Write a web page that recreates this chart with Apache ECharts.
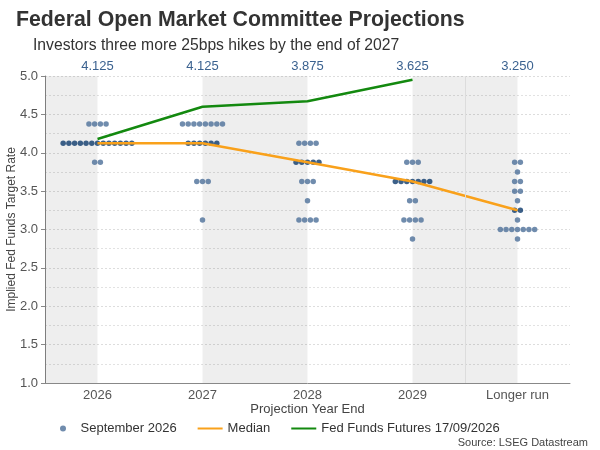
<!DOCTYPE html>
<html><head><meta charset="utf-8">
<script src="https://cdn.jsdelivr.net/npm/echarts@6/dist/echarts.min.js"></script>
<style>html,body{margin:0;padding:0;background:#fff}#c{width:600px;height:450px}</style>
</head><body><div id="c"></div>
<script>
const categories = ['2026', '2027', '2028', '2029', 'Longer run'];
const dots2026 = [4.375,4.375,4.375,4.375, 4.125,4.125,4.125,4.125,4.125,4.125,4.125,4.125,4.125,4.125,4.125,4.125,4.125, 3.875,3.875];
const dots2027 = [4.375,4.375,4.375,4.375,4.375,4.375,4.375,4.375, 4.125,4.125,4.125,4.125,4.125,4.125, 3.625,3.625,3.625, 3.125];
const dots2028 = [4.125,4.125,4.125,4.125, 3.875,3.875,3.875,3.875,3.875, 3.625,3.625,3.625, 3.375, 3.125,3.125,3.125,3.125];
const dots2029 = [3.875,3.875,3.875, 3.625,3.625,3.625,3.625,3.625,3.625,3.625, 3.375,3.375, 3.125,3.125,3.125,3.125, 2.875];
const dotsLonger = [3.875,3.875, 3.75, 3.625,3.625, 3.5,3.5, 3.375, 3.25,3.25, 3.125, 3.0,3.0,3.0,3.0,3.0,3.0,3.0, 2.875];
const medians = [4.125, 4.125, 3.875, 3.625, 3.25];
const medianLabels = ['4.125', '4.125', '3.875', '3.625', '3.250'];
const futures = [4.18, 4.60, 4.67, 4.95];
const yTicks = [1.0, 1.5, 2.0, 2.5, 3.0, 3.5, 4.0, 4.5, 5.0];

const allDots = [dots2026, dots2027, dots2028, dots2029, dotsLonger];
const STEP = 0.0545;
const scatterData = [];
allDots.forEach((arr, ci) => {
  const groups = {};
  arr.forEach(v => { groups[v] = (groups[v] || 0) + 1; });
  Object.keys(groups).forEach(k => {
    const v = parseFloat(k), n = groups[k];
    for (let i = 0; i < n; i++) {
      const off = (i - (n - 1) / 2) * STEP;
      scatterData.push({
        value: [ci + off, v],
        itemStyle: { color: v === medians[ci] ? '#0c3a6c' : '#4c6f98' }
      });
    }
  });
});

const chart = echarts.init(document.getElementById('c'));
const font = 'Liberation Sans, Arial, sans-serif';
chart.setOption({
  animation: false,
  textStyle: { fontFamily: font },
  title: [
    { text: 'Federal Open Market Committee Projections', left: 11, top: 5,
      textStyle: { fontSize: 21.3, fontWeight: 'bold', color: '#333', fontFamily: font } },
    { text: 'Investors three more 25bps hikes by the end of 2027', left: 28, top: 33,
      textStyle: { fontSize: 15.7, fontWeight: 'normal', color: '#333', fontFamily: font } },
    { text: 'Source: LSEG Datastream', right: 7, top: 432,
      textStyle: { fontSize: 11, fontWeight: 'normal', color: '#444', fontFamily: font } }
  ],
  legend: {
    left: 55, top: 417, itemWidth: 25, itemHeight: 6, itemGap: 20,
    textStyle: { fontSize: 13, color: '#333', fontFamily: font },
    data: [
      { name: 'September 2026', icon: 'circle' },
      { name: 'Median', itemStyle: { opacity: 0 } },
      { name: 'Fed Funds Futures 17/09/2026', itemStyle: { opacity: 0 } }
    ]
  },
  grid: { left: 45, right: 30, top: 76, bottom: 67, containLabel: false, outerBoundsMode: 'none' },
  xAxis: [
    { type: 'category', data: categories, position: 'bottom', boundaryGap: true,
      axisLine: { lineStyle: { color: '#888' } },
      axisTick: { alignWithLabel: true, length: 4, lineStyle: { color: '#888' } },
      axisLabel: { fontSize: 13, color: '#555', margin: 6 },
      name: 'Projection Year End', nameLocation: 'middle', nameGap: 20, nameMoveOverlap: false,
      nameTextStyle: { fontSize: 13, color: '#444' },
      splitLine: { show: false } },
    { type: 'category', data: medianLabels, position: 'top', boundaryGap: true,
      axisLine: { show: false }, axisTick: { show: false },
      axisLabel: { fontSize: 13, color: '#3b6290', margin: 3 },
      splitLine: { show: false } },
    { type: 'value', min: -0.5, max: 4.5, show: false, splitLine: { show: false } }
  ],
  yAxis: {
    type: 'value', min: yTicks[0], max: yTicks[yTicks.length - 1], interval: 0.5,
    name: 'Implied Fed Funds Target Rate', nameLocation: 'middle', nameGap: 27, nameMoveOverlap: false,
    nameTextStyle: { fontSize: 12, color: '#444' },
    axisLine: { show: true, onZero: false, lineStyle: { color: '#888' } },
    axisTick: { show: true, length: 4, lineStyle: { color: '#888' } },
    axisLabel: { fontSize: 13, color: '#555', margin: 7, formatter: v => v.toFixed(1) },
    splitLine: { show: true, lineStyle: { color: '#ddd', type: [2, 2] } },
    minorTick: { show: false, splitNumber: 2 },
    minorSplitLine: { show: true, lineStyle: { color: '#e2e2e2', type: [2, 2] } }
  },
  series: [
    { name: 'bands', type: 'line', xAxisIndex: 2, data: [], z: 0, silent: true,
      markArea: { silent: true, itemStyle: { color: 'rgba(0,0,0,0.065)' },
        data: [[{ xAxis: -0.5 }, { xAxis: 0 }], [{ xAxis: 1 }, { xAxis: 2 }], [{ xAxis: 3 }, { xAxis: 4 }]] },
      markLine: { silent: true, symbol: 'none', label: { show: false },
        lineStyle: { color: '#dcdcdc', type: 'solid', width: 1 },
        data: [{ xAxis: 3.5 }] } },
    { name: 'September 2026', type: 'scatter', xAxisIndex: 2, symbolSize: 5.5,
      itemStyle: { color: '#4c6f98' }, data: scatterData, z: 3 },
    { name: 'Median', type: 'line', xAxisIndex: 2, symbol: 'none', showSymbol: false, z: 4,
      lineStyle: { color: '#f9a11b', width: 2.5 }, itemStyle: { color: '#f9a11b' },
      data: medians.map((v, i) => [i, v]) },
    { name: 'Fed Funds Futures 17/09/2026', type: 'line', xAxisIndex: 2, symbol: 'none', showSymbol: false, z: 4,
      lineStyle: { color: '#13890f', width: 2.5 }, itemStyle: { color: '#13890f' },
      data: futures.map((v, i) => [i, v]) }
  ]
});
</script></body></html>
